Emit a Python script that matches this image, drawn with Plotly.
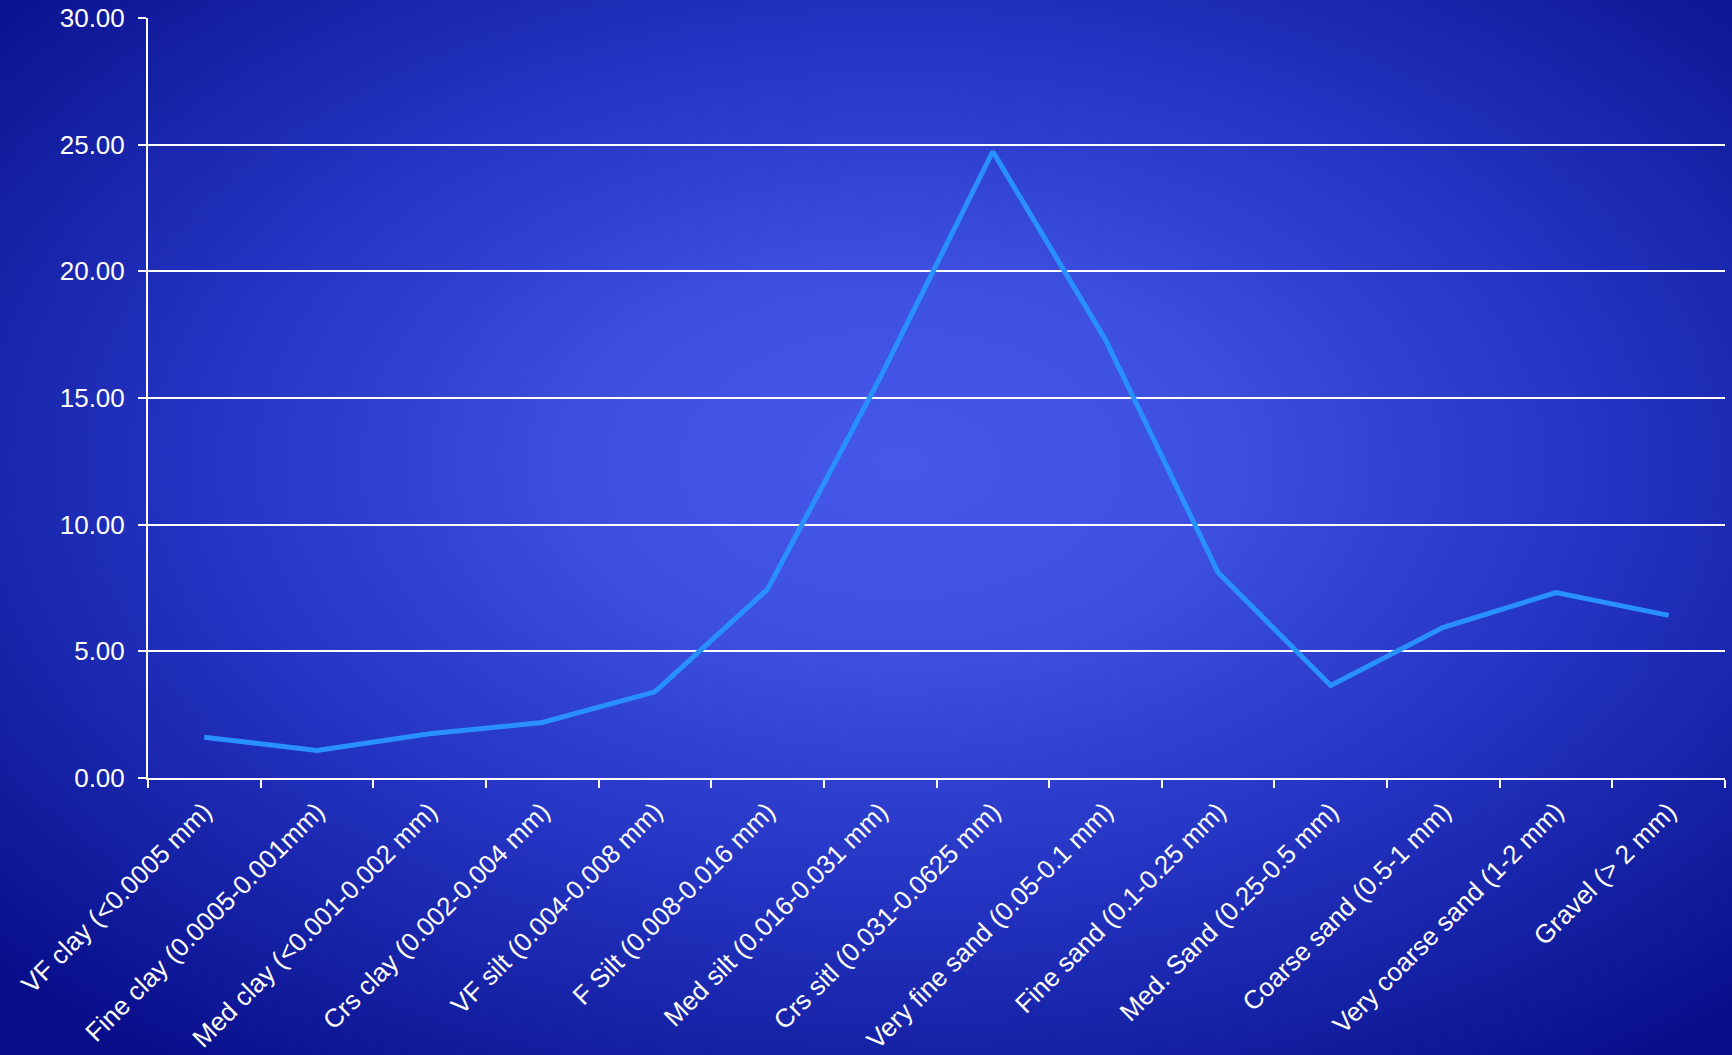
import base64
import plotly.graph_objects as go

# Grain-size classes and percentage of sample in each class
categories = [
    "VF clay (<0.0005 mm)",
    "Fine clay (0.0005-0.001mm)",
    "Med clay (<0.001-0.002 mm)",
    "Crs clay (0.002-0.004 mm)",
    "VF silt (0.004-0.008 mm)",
    "F Silt (0.008-0.016 mm)",
    "Med silt (0.016-0.031 mm)",
    "Crs sitl (0.031-0.0625 mm)",
    "Very fine sand (0.05-0.1 mm)",
    "Fine sand (0.1-0.25 mm)",
    "Med. Sand (0.25-0.5 mm)",
    "Coarse sand (0.5-1 mm)",
    "Very coarse sand (1-2 mm)",
    "Gravel (> 2 mm)",
]
percent = [1.61, 1.09, 1.75, 2.19, 3.40, 7.45, 15.8, 24.73, 17.3, 8.11, 3.65, 5.95, 7.32, 6.42]
y_ticks = [0, 5, 10, 15, 20, 25, 30]

W, H = 1732, 1055
ML, MR, MT, MB = 148, 7, 18, 277
PW, PH = W - ML - MR, H - MT - MB

# Radial blue gradient for the whole canvas
svg = f"""<svg xmlns='http://www.w3.org/2000/svg' width='{W}' height='{H}' viewBox='0 0 {W} {H}' preserveAspectRatio='none'>
<defs><radialGradient id='g' cx='0.52' cy='0.44' r='0.72' fx='0.52' fy='0.44'>
<stop offset='0' stop-color='#4558ea'/>
<stop offset='0.25' stop-color='#3d50e0'/>
<stop offset='0.55' stop-color='#2535c4'/>
<stop offset='0.8' stop-color='#1420a2'/>
<stop offset='1' stop-color='#080d88'/>
</radialGradient></defs>
<rect x='0' y='0' width='{W}' height='{H}' fill='url(#g)'/></svg>"""
bg_src = "data:image/svg+xml;base64," + base64.b64encode(svg.encode()).decode()

family = "Liberation Sans, Arial, sans-serif"
font = dict(family=family, color="white", size=26)

fig = go.Figure(
    go.Scatter(
        x=categories,
        y=percent,
        mode="lines",
        line=dict(color="#2990ff", width=5),
        hoverinfo="x+y",
    )
)

fig.update_layout(
    width=W,
    height=H,
    margin=dict(l=ML, r=MR, t=MT, b=MB, autoexpand=False),
    paper_bgcolor="#0a1090",
    plot_bgcolor="rgba(0,0,0,0)",
    font=font,
    showlegend=False,
    images=[
        dict(
            source=bg_src,
            xref="paper",
            yref="paper",
            x=-ML / PW,
            y=1 + MT / PH,
            sizex=W / PW,
            sizey=H / PH,
            sizing="stretch",
            xanchor="left",
            yanchor="top",
            layer="below",
        )
    ],
)

fig.update_xaxes(
    type="category",
    range=[-0.5, len(categories) - 0.5],
    automargin=False,
    tickangle=-45,
    tickson="boundaries",
    ticks="outside",
    ticklen=8,
    tickwidth=2,
    tickcolor="white",
    ticklabelstandoff=6,
    showline=True,
    linecolor="white",
    linewidth=2,
    showgrid=False,
    tickfont=font,
)

fig.update_yaxes(
    range=[0, 30],
    automargin=False,
    tickvals=y_ticks,
    ticktext=[f"{v:.2f}" for v in y_ticks],
    ticks="outside",
    ticklen=8,
    tickwidth=2,
    tickcolor="white",
    ticklabelstandoff=8,
    showline=True,
    linecolor="white",
    linewidth=2,
    showgrid=True,
    gridcolor="white",
    gridwidth=2,
    zeroline=False,
    tickfont=font,
)

fig.write_html("out.html")
